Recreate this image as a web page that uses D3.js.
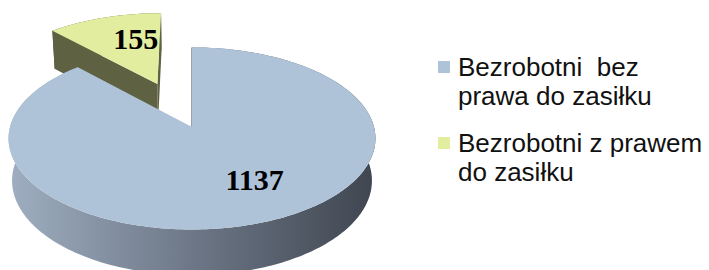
<!DOCTYPE html>
<html>
<head>
<meta charset="utf-8">
<script src="https://cdn.jsdelivr.net/npm/d3@7"></script>
<style>
  body { margin: 0; background: #fff; }
  svg { display: block; }
</style>
</head>
<body>
<svg id="chart" width="709" height="270"></svg>
<script>
// data
const categories = ["Bezrobotni  bez prawa do zasiłku", "Bezrobotni z prawem do zasiłku"];
const values = [1137, 155];
const legendLines = [["Bezrobotni  bez", "prawa do zasiłku"], ["Bezrobotni z prawem", "do zasiłku"]];
const explode = [0, 0.55];

const topColors = ["#afc3d8", "#e3ed9f"];
const sideColors = ["url(#blueSide)", "#5e6142"];

// 3d view
const cx = 192, cy = 127, S = 182;
const elev = 29.5 * Math.PI / 180;
const se = Math.sin(elev), ce = Math.cos(elev);
const D = 6.93, H = 0.27;

function proj(theta, r, yh, off) {
    const X = r * Math.sin(theta) + off.x;
    const Z = -r * Math.cos(theta) + off.z;
    const d = D - (yh * se + Z * ce);
    const up = yh * ce - Z * se;
    const k = S * D / d;
    return [cx + X * k, cy - up * k];
}

const svg = d3.select('#chart');
const defs = svg.append('defs');
const grad = defs.append('linearGradient')
    .attr('id', 'blueSide')
    .attr('gradientUnits', 'userSpaceOnUse')
    .attr('x1', cx - S).attr('x2', cx + S).attr('y1', 0).attr('y2', 0);
grad.append('stop').attr('offset', '0%').attr('stop-color', '#9eaec0');
grad.append('stop').attr('offset', '50%').attr('stop-color', '#6d7787');
grad.append('stop').attr('offset', '100%').attr('stop-color', '#3f4650');

const pie = d3.pie().sort(null).value(d => d);
const arcs = pie(values).map((a, i) => {
    const mid = (a.startAngle + a.endAngle) / 2;
    a.off = { x: explode[i] * Math.sin(mid), z: -explode[i] * Math.cos(mid) };
    a.mid = mid;
    a.i = i;
    return a;
});

const line = d3.line();
function sample(a0, a1) {
    const n = Math.max(4, Math.ceil((a1 - a0) / 0.02));
    return d3.range(n + 1).map(j => a0 + (a1 - a0) * j / n);
}

// far slices first
arcs.sort((p, q) => (-Math.cos(p.mid) + p.off.z) - (-Math.cos(q.mid) + q.off.z));

const pieG = svg.append('g');
arcs.forEach(a => {
    const g = pieG.append('g');
    const angs = sample(a.startAngle, a.endAngle);
    // outer side
    const band = angs.map(t => proj(t, 1, 0, a.off))
        .concat(angs.slice().reverse().map(t => proj(t, 1, -H, a.off)));
    g.append('path')
        .attr('d', line(band) + 'Z')
        .attr('fill', sideColors[a.i]);
    // radial faces
    [[a.startAngle, -1], [a.endAngle, 1]].forEach(([t, sgn]) => {
        const nx = Math.sin(t + sgn * Math.PI / 2), nz = -Math.cos(t + sgn * Math.PI / 2);
        const px = 0.5 * Math.sin(t) + a.off.x, pz = -0.5 * Math.cos(t) + a.off.z;
        const camZ = D * ce;
        const dot = nx * (0 - px) + nz * (camZ - pz);
        if (dot < -1e-6) return;
        const face = [proj(t, 0, 0, a.off), proj(t, 1, 0, a.off), proj(t, 1, -H, a.off), proj(t, 0, -H, a.off)];
        g.append('path')
            .attr('d', line(face) + 'Z')
            .attr('fill', a.i === 0 ? '#5a6470' : sideColors[a.i])
            .attr('stroke', a.i === 0 ? '#5a6470' : 'none')
            .attr('stroke-width', 1.2);
    });
    // top
    const top = [proj(0, 0, 0, a.off)].concat(angs.map(t => proj(t, 1, 0, a.off)));
    g.append('path')
        .attr('d', line(top) + 'Z')
        .attr('fill', topColors[a.i]);
});

// value labels
const labelSpot = [{ a: 150, r: 0.64 }, { a: 346, r: 0.62 }];
arcs.forEach(a => {
    const p = proj(labelSpot[a.i].a * Math.PI / 180, labelSpot[a.i].r, 0, a.off);
    svg.append('text')
        .attr('x', p[0]).attr('y', p[1] + 10)
        .attr('text-anchor', 'middle')
        .attr('font-family', '"Liberation Serif", "Times New Roman", serif')
        .attr('font-weight', 'bold')
        .attr('font-size', 30)
        .attr('fill', '#000')
        .text(a.data);
});

// legend
const leg = svg.append('g').attr('transform', 'translate(438,0)');
const legY = [61, 137];
categories.forEach((c, i) => {
    leg.append('rect')
        .attr('x', 0).attr('y', legY[i])
        .attr('width', 12).attr('height', 12)
        .attr('fill', topColors[i]);
    const t = leg.append('text')
        .attr('font-family', '"Liberation Sans", Arial, sans-serif')
        .attr('font-size', 26)
        .attr('fill', '#111');
    legendLines[i].forEach((s, j) => {
        t.append('tspan')
            .attr('x', 20)
            .attr('y', legY[i] + 15 + j * 29)
            .attr('xml:space', 'preserve')
            .text(s);
    });
});
</script>
</body>
</html>
